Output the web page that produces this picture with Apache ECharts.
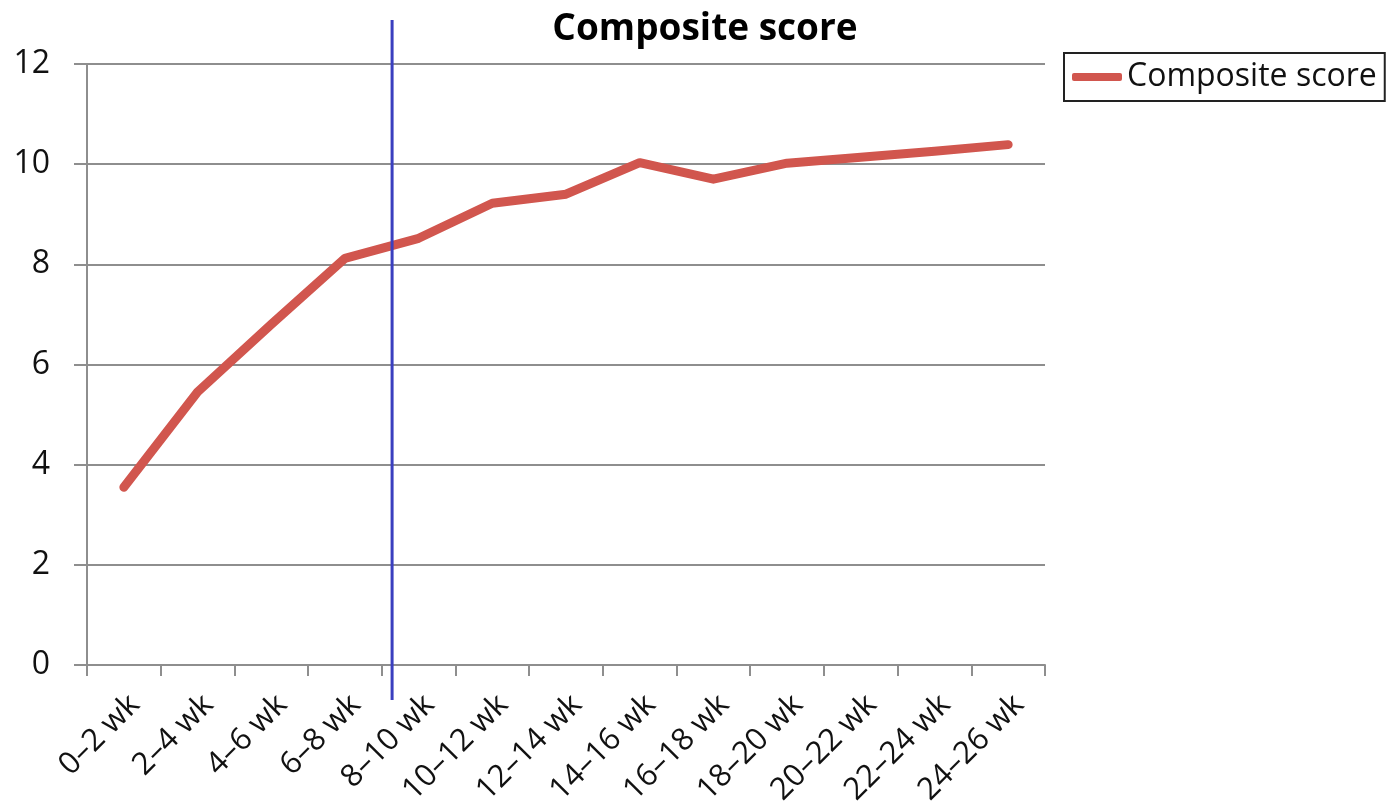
<!DOCTYPE html>
<html>
<head>
<meta charset="utf-8">
<title>Composite score</title>
<script src="https://cdn.jsdelivr.net/npm/echarts@6/dist/echarts.min.js"></script>
<style>
  html, body { margin: 0; padding: 0; background: #ffffff; }
  #chart { width: 1386px; height: 810px; }
</style>
</head>
<body>
<div id="chart"></div>
<script>
// Two-week intervals on the x axis
const categories = ['0–2 wk', '2–4 wk', '4–6 wk', '6–8 wk', '8–10 wk', '10–12 wk', '12–14 wk',
  '14–16 wk', '16–18 wk', '18–20 wk', '20–22 wk', '22–24 wk', '24–26 wk'];

// Composite score per interval
const compositeScore = [3.55, 5.45, 6.8, 8.12, 8.52, 9.22, 9.4, 10.03, 9.7, 10.02, 10.14, 10.26, 10.39];

// Y axis range and step
const yMin = 0;
const yMax = 12;
const yStep = 2;

// Position of the vertical divider, in category-index units
const dividerIndex = 3.64;

const FONT = '"Open Sans", "Liberation Sans", sans-serif';
const GRID_GRAY = '#8e8e8e';

const chart = echarts.init(document.getElementById('chart'), null, { renderer: 'canvas' });

chart.setOption({
  backgroundColor: '#ffffff',
  animation: false,
  title: {
    text: 'Composite score',
    left: 700,
    textAlign: 'center',
    top: 6,
    textStyle: { fontFamily: FONT, fontSize: 37, fontWeight: 'bold', color: '#000000' }
  },
  legend: {
    left: 1064,
    top: 53,
    orient: 'vertical',
    padding: [8, 8, 8, 8],
    borderColor: '#222222',
    borderWidth: 2,
    itemWidth: 50,
    itemHeight: 8,
    itemGap: 0,
    icon: 'roundRect',
    textStyle: { fontFamily: FONT, fontSize: 32, color: '#111111', padding: [0, 0, 0, 0] },
    data: ['Composite score']
  },
  grid: { left: 87, right: 341, top: 64, bottom: 145 },
  xAxis: {
    type: 'category',
    data: categories,
    boundaryGap: true,
    axisLine: { show: true, lineStyle: { color: GRID_GRAY, width: 2 } },
    axisTick: { show: true, interval: 0, length: 11, lineStyle: { color: GRID_GRAY, width: 2 } },
    axisLabel: {
      interval: 0,
      rotate: 45,
      margin: 24,
      verticalAlign: 'top',
      fontFamily: FONT,
      fontSize: 31,
      color: '#111111'
    },
    splitLine: { show: false }
  },
  yAxis: {
    type: 'value',
    min: yMin,
    max: yMax,
    interval: yStep,
    axisLine: { show: true, lineStyle: { color: GRID_GRAY, width: 2 } },
    axisTick: { show: true, length: 13, lineStyle: { color: GRID_GRAY, width: 2 } },
    axisLabel: { margin: 37, fontFamily: FONT, fontSize: 32, color: '#111111' },
    splitLine: { show: true, lineStyle: { color: GRID_GRAY, width: 2 } }
  },
  series: [{
    name: 'Composite score',
    type: 'line',
    data: compositeScore,
    showSymbol: false,
    symbol: 'none',
    smooth: false,
    itemStyle: { color: '#d1564e' },
    lineStyle: { color: '#d1564e', width: 9, cap: 'round', join: 'round' },
    z: 3
  }]
});

// Vertical divider drawn across the plot, placed by the category scale
function drawDivider() {
  const i0 = Math.floor(dividerIndex);
  const frac = dividerIndex - i0;
  const xa = chart.convertToPixel({ xAxisIndex: 0 }, categories[i0]);
  const xb = chart.convertToPixel({ xAxisIndex: 0 }, categories[i0 + 1]);
  const x = xa + frac * (xb - xa);
  const yTop = chart.convertToPixel({ yAxisIndex: 0 }, yMax) - 44;
  const yBottom = chart.convertToPixel({ yAxisIndex: 0 }, yMin) + 35;
  chart.setOption({
    graphic: [{
      type: 'line',
      z: 10,
      shape: { x1: x, y1: yTop, x2: x, y2: yBottom },
      style: { stroke: '#3a3fbf', lineWidth: 3 }
    }]
  });
}
drawDivider();
</script>
</body>
</html>
